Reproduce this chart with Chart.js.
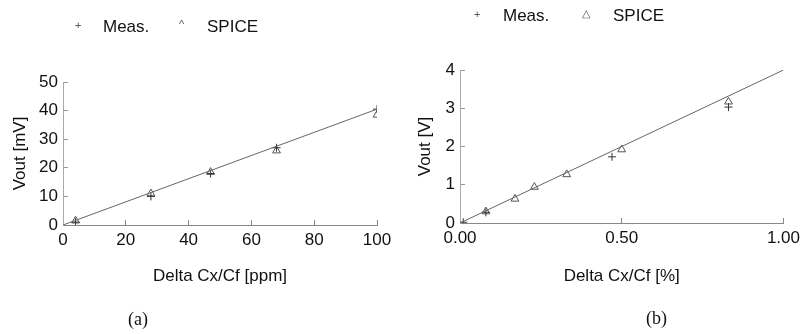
<!DOCTYPE html>
<html>
<head>
<meta charset="utf-8">
<script src="https://cdn.jsdelivr.net/npm/chart.js@4/dist/chart.umd.min.js"></script>
<style>
  body { margin: 0; background: #fff; width: 810px; height: 334px; position: relative; overflow: hidden; font-family: "Liberation Sans", Arial, sans-serif; }
  .box { position: absolute; top: 0; width: 405px; height: 334px; }
  .lg { position: absolute; font-size: 17px; color: #111; line-height: 1; white-space: nowrap; }
  .sym { position: absolute; font-size: 11px; color: #555; line-height: 1; }
  .cap { position: absolute; font-family: "Liberation Serif", "Times New Roman", serif; font-size: 18px; color: #111; }
</style>
</head>
<body>
<div class="box" style="left:0"><canvas id="chartA"></canvas></div>
<div class="box" style="left:405px"><canvas id="chartB"></canvas></div>

<span class="sym" style="left:75px;top:20px">+</span>
<span class="lg" style="left:103px;top:18px">Meas.</span>
<span class="sym" style="left:179px;top:19px">^</span>
<span class="lg" style="left:207px;top:18px">SPICE</span>

<span class="sym" style="left:474px;top:9px">+</span>
<span class="lg" style="left:503px;top:7px">Meas.</span>
<span class="sym" style="left:582px;top:8px">△</span>
<span class="lg" style="left:613px;top:7px">SPICE</span>

<span class="cap" style="left:128px;top:309px">(a)</span>
<span class="cap" style="left:646px;top:308px">(b)</span>

<script>
// (a) ppm range, mV
const measAx = [4, 28, 47, 68, 100];
const measAy = [1, 10, 18, 27, 40.5];
const spiceAx = [4, 28, 47, 68, 100];
const spiceAy = [1.5, 11, 18.5, 26, 38.5];
const fitAx = [0, 100];
const fitAy = [0, 40.5];

// (b) percent range, V
const measBx = [0.01, 0.08, 0.47, 0.83];
const measBy = [0.02, 0.28, 1.73, 3.03];
const spiceBx = [0.08, 0.17, 0.23, 0.33, 0.5, 0.83];
const spiceBy = [0.3, 0.63, 0.94, 1.27, 1.92, 3.17];
const fitBx = [0, 1];
const fitBy = [0, 4];

const pts = (xs, ys) => xs.map((x, i) => ({x: x, y: ys[i]}));
const font = {family: '"Liberation Sans", Arial, sans-serif', size: 17};

function makeChart(id, d, ax) {
    return new Chart(document.getElementById(id), {
        type: 'scatter',
        data: {
            datasets: [
                {label: 'fit', data: d.fit, showLine: true, borderColor: '#666', borderWidth: 1, pointRadius: 0},
                {label: 'Meas.', data: d.meas, pointStyle: 'cross', pointRadius: 4, borderColor: '#333', borderWidth: 1},
                {label: 'SPICE', data: d.spice, pointStyle: 'triangle', pointRadius: 4.5, borderColor: '#555', backgroundColor: 'transparent', borderWidth: 1}
            ]
        },
        options: {
            responsive: false,
            animation: false,
            layout: {padding: ax.pad},
            plugins: {legend: {display: false}, tooltip: {enabled: false}},
            scales: {
                x: {
                    min: ax.xmin, max: ax.xmax,
                    afterFit: s => { s.height = ax.xh; },
                    afterBuildTicks: s => { s.ticks = ax.xticks.map(v => ({value: v})); },
                    border: {color: '#888'},
                    grid: {drawOnChartArea: false, tickLength: -5, color: '#888'},
                    ticks: {font: font, color: '#111', padding: 10, maxRotation: 0, callback: ax.xfmt},
                    title: {display: true, text: ax.xtitle, font: font, color: '#111', padding: {top: 0, bottom: 3}}
                },
                y: {
                    min: ax.ymin, max: ax.ymax,
                    afterFit: s => { s.width = ax.yw; },
                    afterBuildTicks: s => { s.ticks = ax.yticks.map(v => ({value: v})); },
                    border: {color: '#aaa'},
                    grid: {drawOnChartArea: false, tickLength: -5, color: '#999'},
                    ticks: {font: font, color: '#111', padding: 10},
                    title: {display: true, text: ax.ytitle, font: font, color: '#111', padding: {top: 10, bottom: 0}}
                }
            }
        }
    });
}

document.getElementById('chartA').width = 405;
document.getElementById('chartA').height = 334;
document.getElementById('chartB').width = 405;
document.getElementById('chartB').height = 334;

makeChart('chartA',
    {fit: pts(fitAx, fitAy), meas: pts(measAx, measAy), spice: pts(spiceAx, spiceAy)},
    {xmin: 0, xmax: 100, ymin: 0, ymax: 50,
     xticks: [0, 20, 40, 60, 80, 100], yticks: [0, 10, 20, 30, 40, 50],
     xfmt: v => v,
     xtitle: 'Delta Cx/Cf [ppm]', ytitle: 'Vout [mV]',
     xh: 65, yw: 63, pad: {top: 82, right: 28, bottom: 44, left: 0}});

makeChart('chartB',
    {fit: pts(fitBx, fitBy), meas: pts(measBx, measBy), spice: pts(spiceBx, spiceBy)},
    {xmin: 0, xmax: 1, ymin: 0, ymax: 4,
     xticks: [0, 0.5, 1], yticks: [0, 1, 2, 3, 4],
     xfmt: v => Number(v).toFixed(2),
     xtitle: 'Delta Cx/Cf [%]', ytitle: 'Vout [V]',
     xh: 67, yw: 55, pad: {top: 70, right: 20, bottom: 44, left: 0}});
</script>
</body>
</html>
